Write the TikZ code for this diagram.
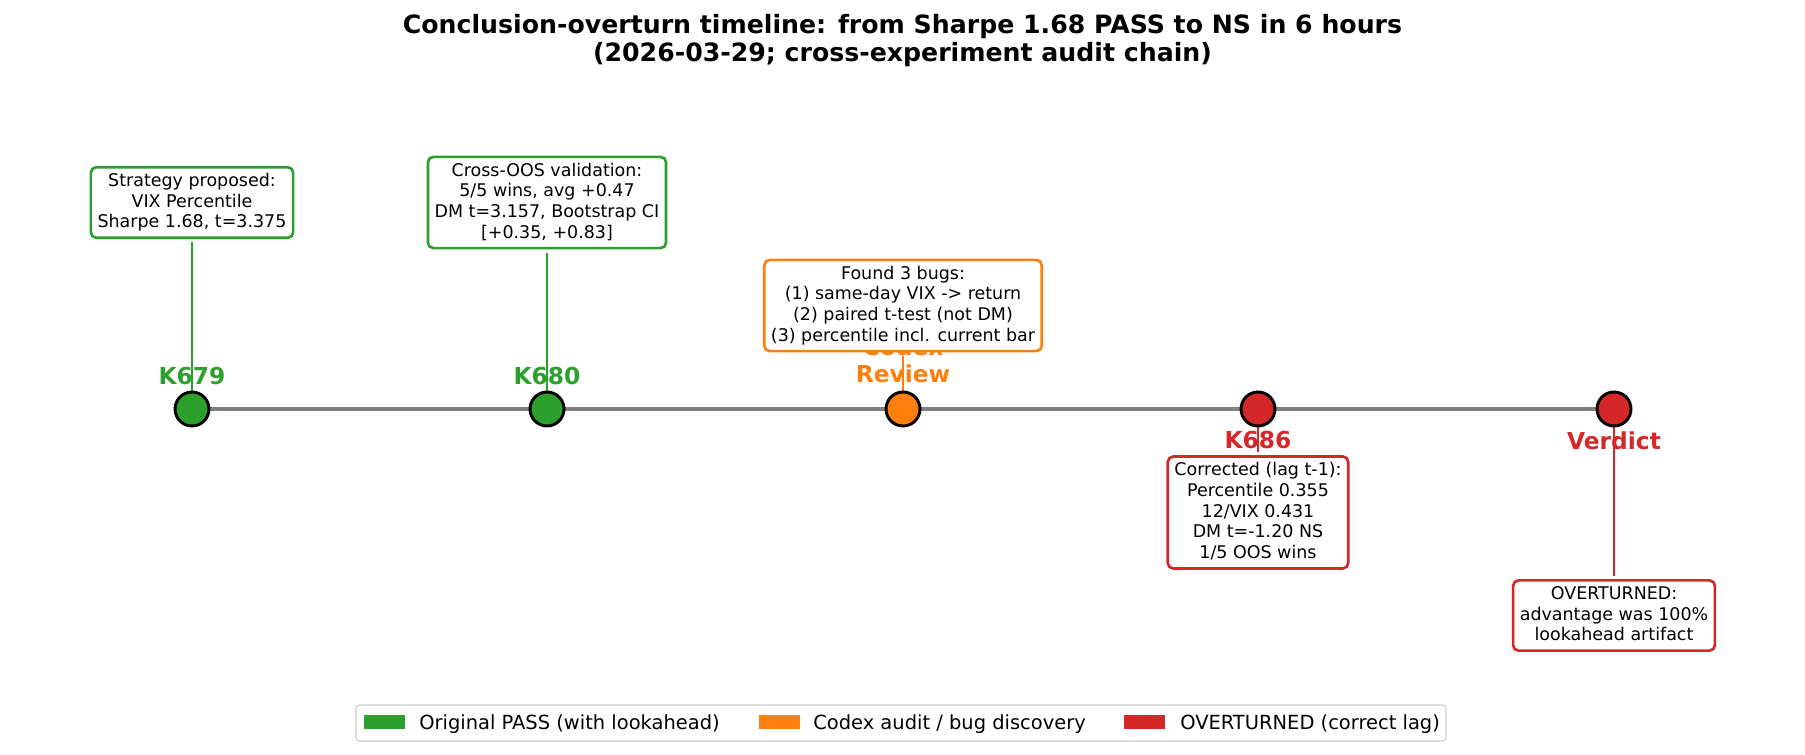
\documentclass[tikz,border=0pt]{standalone}
\usepackage{fontspec}
\setmainfont{DejaVu Sans}
\usepackage{xcolor}
\definecolor{passgreen}{RGB}{44,160,44}
\definecolor{auditorange}{RGB}{255,127,14}
\definecolor{overred}{RGB}{214,39,40}
\usepackage{tikz}
\tikzset{
    note/.style={draw=#1, line width=2pt, fill=white, rounded corners=4pt, align=center,
        inner xsep=5pt, inner ysep=4.6pt, font=\fontsize{13.1}{15.5}\selectfont,
        execute at end node={\vphantom{(g}}},
    stem/.style={draw=#1, line width=1.5pt},
    evlabel/.style={text=#1, inner sep=0pt, font=\fontsize{17.5}{20.3}\selectfont\bfseries},
    event/.style={circle, draw=black, line width=2.2pt, fill=#1, minimum size=25.5pt, inner sep=0pt},
    keypatch/.style={fill=#1, minimum width=30.75pt, minimum height=10.5pt, inner sep=0pt, anchor=south west},
    keytext/.style={anchor=base west, inner sep=0pt, font=\fontsize{14.6}{17}\selectfont}
}

\begin{document}
\begin{tikzpicture}[x=0.75pt, y=-0.75pt]
    \useasboundingbox (0,0) rectangle (1805,755);
    % title
    \node[anchor=north, align=center, inner sep=0pt, font=\fontsize{18.9}{21.3}\selectfont\bfseries] (title) at (902.5,14)
        {Conclusion-overturn timeline: from Sharpe 1.68 PASS to NS in 6 hours\\(2026-03-29; cross-experiment audit chain)};
    % timeline
    \foreach \n/\x in {1/192,2/547,3/903,4/1258,5/1614} \coordinate (p\n) at (\x,409);
    \draw[gray, line width=3pt] (p1) -- (p5);
    \node[evlabel=passgreen, anchor=base] (l1) at (192,384) {K679};
    \node[evlabel=passgreen, anchor=base] (l2) at (547,384) {K680};
    \node[evlabel=auditorange, anchor=south, align=center] (l3) at (903,383) {Codex\\Review};
    \node[evlabel=overred, anchor=base] (l4) at (1258,448) {K686};
    \node[evlabel=overred, anchor=base] (l5) at (1614,449) {Verdict};
    % notes
    \node[note=passgreen] (b1) at (192,202.5) {Strategy proposed:\\VIX Percentile\\Sharpe 1.68, t=3.375};
    \node[note=passgreen] (b2) at (547,202.5) {Cross-OOS validation:\\5/5 wins, avg +0.47\\DM t=3.157, Bootstrap CI\\{[+0.35, +0.83]}};
    \node[note=auditorange] (b3) at (903,305.5) {Found 3 bugs:\\(1) same-day VIX -> return\\(2) paired t-test (not DM)\\(3) percentile incl. current bar};
    \node[note=overred] (b4) at (1258,512.5) {Corrected (lag t-1):\\Percentile 0.355\\12/VIX 0.431\\DM t=-1.20 NS\\1/5 OOS wins};
    \node[note=overred] (b5) at (1614,615.5) {OVERTURNED:\\advantage was 100\%\\lookahead artifact};
    \draw[stem=passgreen, shorten <=2.5pt] (b1.south) -- (p1);
    \draw[stem=passgreen, shorten <=2.5pt] (b2.south) -- (p2);
    \draw[stem=auditorange, shorten <=2.5pt] (b3.south) -- (p3);
    \draw[stem=overred, shorten >=2.5pt] (p4) -- (b4.north);
    \draw[stem=overred, shorten >=2.5pt] (p5) -- (b5.north);
    \foreach \n/\col in {1/passgreen,2/passgreen,3/auditorange,4/overred,5/overred}
        \node[event=\col] (e\n) at (p\n) {};
    % legend
    \node[draw=black!20, line width=0.8pt, fill=white, rounded corners=2.5pt, minimum width=817.5pt, minimum height=27pt] (legend) at (901,723) {};
    \foreach \px/\tx/\col/\nm/\txt in {364/419/passgreen/pass/{Original PASS (with lookahead)},
        759/813/auditorange/audit/{Codex audit / bug discovery},
        1124/1180/overred/over/{OVERTURNED (correct lag)}} {
        \node[keypatch=\col] (patch-\nm) at (\px,729) {};
        \node[keytext] (key-\nm) at (\tx,729) {\txt};
    }
\end{tikzpicture}
\end{document}
